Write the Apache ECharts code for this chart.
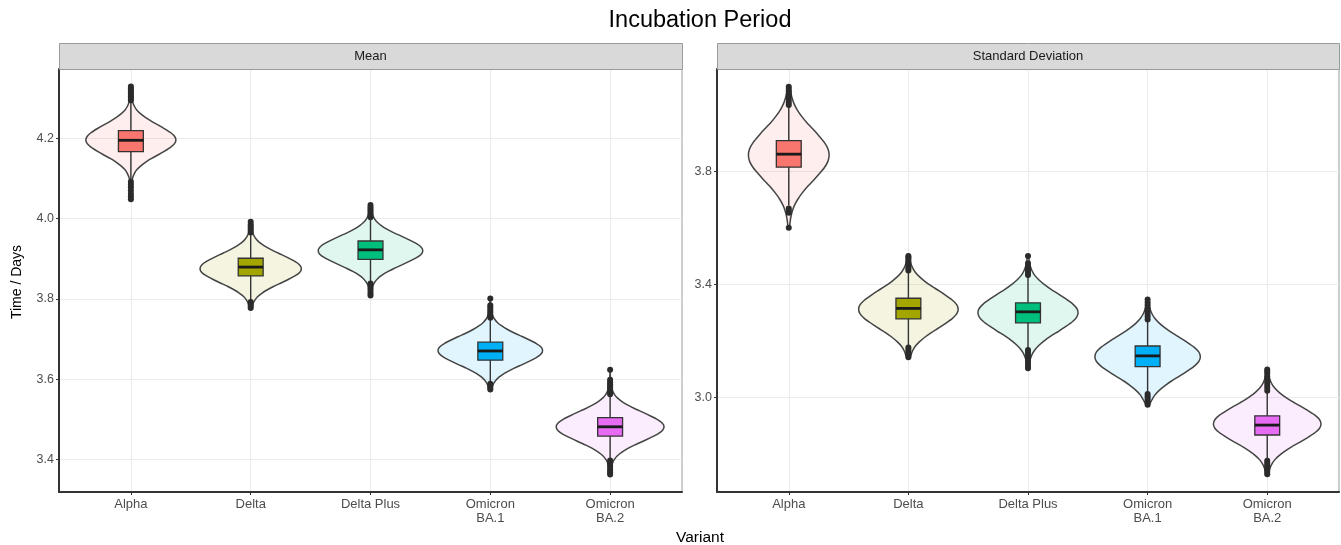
<!DOCTYPE html>
<html><head><meta charset="utf-8">
<script src="https://cdn.jsdelivr.net/npm/echarts@6/dist/echarts.min.js"></script>
<style>html,body{margin:0;padding:0;background:#fff}#c{width:1341px;height:545px}</style>
</head><body><div id="c"></div>
<script>
// ---------------- data ----------------
const CATEGORIES = ['Alpha', 'Delta', 'Delta Plus', 'Omicron\nBA.1', 'Omicron\nBA.2'];
const PANELS = ['Mean', 'Standard Deviation'];
const MEAN_TICKS = [3.4, 3.6, 3.8, 4.0, 4.2];
const SD_TICKS = [3.0, 3.4, 3.8];
const MEAN_RANGE = [3.3185, 4.3727];
const SD_RANGE = [2.6662, 4.1635];

// Mean panel
const MEAN_Q1 = [4.167, 3.857, 3.898, 3.647, 3.458];
const MEAN_MEDIAN = [4.195, 3.879, 3.922, 3.670, 3.481];
const MEAN_Q3 = [4.219, 3.901, 3.944, 3.692, 3.504];
const MEAN_WHISKER_LO = [4.094, 3.795, 3.840, 3.592, 3.400];
const MEAN_WHISKER_HI = [4.292, 3.962, 4.000, 3.750, 3.558];
const MEAN_MODE = [4.196, 3.875, 3.920, 3.671, 3.481];
const MEAN_SPREAD = [0.037, 0.035, 0.035, 0.035, 0.036];
const MEAN_MIN = [4.046, 3.775, 3.804, 3.571, 3.361];
const MEAN_MAX = [4.329, 3.992, 4.036, 3.801, 3.623];
const MEAN_PEAK_DENSITY = [0.835, 0.94, 0.97, 0.97, 1.0];
const MEAN_OUTLIERS = [
  [4.295, 4.300, 4.305, 4.310, 4.315, 4.320, 4.325, 4.329, 4.092, 4.085, 4.078, 4.070, 4.062, 4.055, 4.048],
  [3.965, 3.970, 3.975, 3.980, 3.985, 3.992, 3.792, 3.787, 3.782, 3.777],
  [4.003, 4.008, 4.013, 4.018, 4.023, 4.028, 4.034, 3.838, 3.832, 3.826, 3.820, 3.814, 3.808],
  [3.753, 3.758, 3.763, 3.768, 3.773, 3.778, 3.784, 3.801, 3.588, 3.583, 3.578, 3.574],
  [3.562, 3.567, 3.572, 3.577, 3.582, 3.587, 3.592, 3.598, 3.623, 3.397, 3.391, 3.385, 3.379, 3.373, 3.367, 3.362]
];

// Standard deviation panel
const SD_Q1 = [3.816, 3.279, 3.265, 3.110, 2.868];
const SD_MEDIAN = [3.862, 3.316, 3.304, 3.148, 2.903];
const SD_Q3 = [3.910, 3.352, 3.336, 3.183, 2.936];
const SD_WHISKER_LO = [3.680, 3.182, 3.172, 3.016, 2.780];
const SD_WHISKER_HI = [4.030, 3.446, 3.430, 3.274, 3.022];
const SD_MODE = [3.859, 3.313, 3.301, 3.145, 2.907];
const SD_SPREAD = [0.090, 0.066, 0.066, 0.068, 0.064];
const SD_MIN = [3.602, 3.143, 3.104, 2.975, 2.729];
const SD_MAX = [4.101, 3.502, 3.502, 3.348, 3.100];
const SD_PEAK_DENSITY = [0.75, 0.925, 0.93, 0.98, 1.0];
const SD_OUTLIERS = [
  [4.036, 4.045, 4.055, 4.065, 4.075, 4.085, 4.093, 4.101, 3.670, 3.662, 3.655, 3.602],
  [3.450, 3.458, 3.466, 3.474, 3.482, 3.490, 3.497, 3.502, 3.178, 3.170, 3.162, 3.155, 3.149, 3.143],
  [3.434, 3.442, 3.450, 3.458, 3.466, 3.476, 3.502, 3.169, 3.160, 3.150, 3.140, 3.130, 3.120, 3.110, 3.104],
  [3.277, 3.287, 3.297, 3.307, 3.317, 3.327, 3.337, 3.348, 3.013, 3.005, 2.997, 2.989, 2.981, 2.975],
  [3.025, 3.035, 3.045, 3.055, 3.065, 3.075, 3.085, 3.093, 3.100, 2.777, 2.769, 2.761, 2.753, 2.745, 2.737, 2.729]
];

// density shape of violins (relative width vs distance from mode in spread units)
const PROFILE_Z = [0, 0.25, 0.5, 0.75, 1, 1.25, 1.5, 1.75, 2, 2.25, 2.5, 2.75, 3, 3.5, 4, 5];
const PROFILE_W = [1, 0.97, 0.88, 0.75, 0.61, 0.46, 0.33, 0.22, 0.135, 0.08, 0.045, 0.025, 0.013, 0.005, 0.002, 0.001];

// ---------------- styles ----------------
const COLORS = ['#F8766D', '#A3A500', '#00BF7D', '#00B0F6', '#E76BF3'];
const FONT = "'Liberation Sans', Arial, Helvetica, sans-serif";
const VIOLIN_HALF = 0.45;
const BOX_HALF = 0.104;
const G = [
  { left: 59, top: 69, width: 623, height: 423 },
  { left: 717, top: 69, width: 622, height: 423 }
];
const STRIP_H = 26;

function hexA(hex, a) {
  const n = parseInt(hex.slice(1), 16);
  return 'rgba(' + (n >> 16) + ',' + ((n >> 8) & 255) + ',' + (n & 255) + ',' + a + ')';
}
function prof(z) {
  z = Math.abs(z);
  for (let i = 1; i < PROFILE_Z.length; i++) {
    if (z <= PROFILE_Z[i]) {
      const t = (z - PROFILE_Z[i - 1]) / (PROFILE_Z[i] - PROFILE_Z[i - 1]);
      return PROFILE_W[i - 1] + t * (PROFILE_W[i] - PROFILE_W[i - 1]);
    }
  }
  return PROFILE_W[PROFILE_W.length - 1];
}

function violinRender(params, api) {
  const x = api.value(0), c = api.value(1), s = api.value(2), lo = api.value(3), hi = api.value(4), peak = api.value(5);
  const hw = VIOLIN_HALF * peak;
  const zl = (c - lo) / s, zh = (hi - c) / s;
  const pts = [[lo, prof(zl) * 0.6]];
  for (let i = PROFILE_Z.length - 1; i >= 0; i--) if (PROFILE_Z[i] < zl) pts.push([c - PROFILE_Z[i] * s, PROFILE_W[i]]);
  for (let i = 1; i < PROFILE_Z.length; i++) if (PROFILE_Z[i] < zh) pts.push([c + PROFILE_Z[i] * s, PROFILE_W[i]]);
  pts.push([hi, prof(zh) * 0.6]);
  const right = pts.map(p => api.coord([x + hw * p[1], p[0]]));
  const left = pts.slice().reverse().map(p => api.coord([x - hw * p[1], p[0]]));
  const col = COLORS[params.dataIndex];
  return {
    type: 'polygon',
    shape: { points: right.concat(left), smooth: 0.15 },
    style: { fill: hexA(col, 0.12), stroke: '#444', lineWidth: 1.5 }
  };
}

function boxRender(params, api) {
  const x = api.value(0), wl = api.value(1), q1 = api.value(2), med = api.value(3), q3 = api.value(4), wh = api.value(5);
  const col = COLORS[params.dataIndex];
  const pLo = api.coord([x, wl]), pHi = api.coord([x, wh]);
  const a = api.coord([x - BOX_HALF, q3]), b = api.coord([x + BOX_HALF, q1]);
  const m1 = api.coord([x - BOX_HALF, med]), m2 = api.coord([x + BOX_HALF, med]);
  return {
    type: 'group', children: [
      { type: 'line', shape: { x1: pLo[0], y1: pLo[1], x2: pHi[0], y2: pHi[1] }, style: { stroke: '#333', lineWidth: 1.4 } },
      { type: 'rect', shape: { x: a[0], y: a[1], width: b[0] - a[0], height: b[1] - a[1] }, style: { fill: col, stroke: '#333', lineWidth: 1.3 } },
      { type: 'line', shape: { x1: m1[0], y1: m1[1], x2: m2[0], y2: m2[1] }, style: { stroke: '#1a1a1a', lineWidth: 2.8 } }
    ]
  };
}

const PANEL_DATA = [
  { q1: MEAN_Q1, med: MEAN_MEDIAN, q3: MEAN_Q3, wl: MEAN_WHISKER_LO, wh: MEAN_WHISKER_HI, mode: MEAN_MODE, spread: MEAN_SPREAD, min: MEAN_MIN, max: MEAN_MAX, peak: MEAN_PEAK_DENSITY, out: MEAN_OUTLIERS, ticks: MEAN_TICKS, range: MEAN_RANGE },
  { q1: SD_Q1, med: SD_MEDIAN, q3: SD_Q3, wl: SD_WHISKER_LO, wh: SD_WHISKER_HI, mode: SD_MODE, spread: SD_SPREAD, min: SD_MIN, max: SD_MAX, peak: SD_PEAK_DENSITY, out: SD_OUTLIERS, ticks: SD_TICKS, range: SD_RANGE }
];

const catIdx = CATEGORIES.map((_, i) => i);
const grids = [], xAxes = [], yAxes = [], series = [];
PANEL_DATA.forEach((P, gi) => {
  grids.push(Object.assign({ show: true, borderColor: '#9a9a9a', borderWidth: 1, backgroundColor: '#fff' }, G[gi]));
  xAxes.push({
    type: 'value', gridIndex: gi, min: -0.6, max: 4.6,
    axisLine: { show: true, onZero: false, lineStyle: { color: '#333', width: 2 } },
    axisTick: { show: true, customValues: catIdx, length: 3, lineStyle: { color: '#333', width: 1 } },
    axisLabel: { customValues: catIdx, formatter: v => CATEGORIES[Math.round(v)], color: '#4d4d4d', fontSize: 13, lineHeight: 14, margin: 5, fontFamily: FONT },
    splitLine: { show: true, lineStyle: { color: '#ebebeb', width: 1 } }
  });
  yAxes.push({
    type: 'value', gridIndex: gi, min: P.range[0], max: P.range[1],
    axisLine: { show: true, onZero: false, lineStyle: { color: '#333', width: 2 } },
    axisTick: { show: true, customValues: P.ticks, length: 3, lineStyle: { color: '#333', width: 1 } },
    axisLabel: { customValues: P.ticks, formatter: v => v.toFixed(1), color: '#4d4d4d', fontSize: 12.5, margin: 5, fontFamily: FONT },
    splitLine: { show: true, lineStyle: { color: '#ebebeb', width: 1 } }
  });
  series.push({
    type: 'custom', xAxisIndex: gi, yAxisIndex: gi, renderItem: violinRender, clip: true, z: 2,
    encode: { x: 0, y: 1 },
    data: catIdx.map(i => [i, P.mode[i], P.spread[i], P.min[i], P.max[i], P.peak[i]])
  });
  series.push({
    type: 'custom', xAxisIndex: gi, yAxisIndex: gi, renderItem: boxRender, clip: true, z: 3,
    encode: { x: 0, y: 3 },
    data: catIdx.map(i => [i, P.wl[i], P.q1[i], P.med[i], P.q3[i], P.wh[i]])
  });
  const pts = [];
  P.out.forEach((arr, i) => arr.forEach(v => pts.push([i, v])));
  series.push({
    type: 'scatter', xAxisIndex: gi, yAxisIndex: gi, z: 4, symbolSize: 6,
    itemStyle: { color: '#2b2b2b', opacity: 1 }, data: pts, silent: true
  });
});

const graphics = [];
PANEL_DATA.forEach((P, gi) => {
  const g = G[gi];
  graphics.push({
    type: 'rect', left: g.left, top: g.top - STRIP_H, z: 10,
    shape: { width: g.width, height: STRIP_H },
    style: { fill: '#d9d9d9', stroke: '#9a9a9a', lineWidth: 1 }
  });
  graphics.push({
    type: 'text', x: g.left + g.width / 2, y: g.top - STRIP_H / 2, z: 11,
    style: { text: PANELS[gi], fill: '#1a1a1a', font: '13px ' + FONT, align: 'center', verticalAlign: 'middle' }
  });
});
graphics.push({ type: 'text', x: 700, y: 21, z: 11, style: { text: 'Incubation Period', fill: '#000', font: '23.5px ' + FONT, align: 'center', verticalAlign: 'middle' } });
graphics.push({ type: 'text', x: 700, y: 538, z: 11, style: { text: 'Variant', fill: '#000', font: '15.5px ' + FONT, align: 'center', verticalAlign: 'middle' } });
graphics.push({ type: 'text', x: 17, y: 282, rotation: Math.PI / 2, z: 11, style: { text: 'Time / Days', fill: '#000', font: '14px ' + FONT, align: 'center', verticalAlign: 'middle' } });

const chart = echarts.init(document.getElementById('c'), null, { renderer: 'canvas' });
chart.setOption({
  animation: false,
  backgroundColor: '#fff',
  grid: grids,
  xAxis: xAxes,
  yAxis: yAxes,
  series: series,
  graphic: graphics
});
</script>
</body></html>
